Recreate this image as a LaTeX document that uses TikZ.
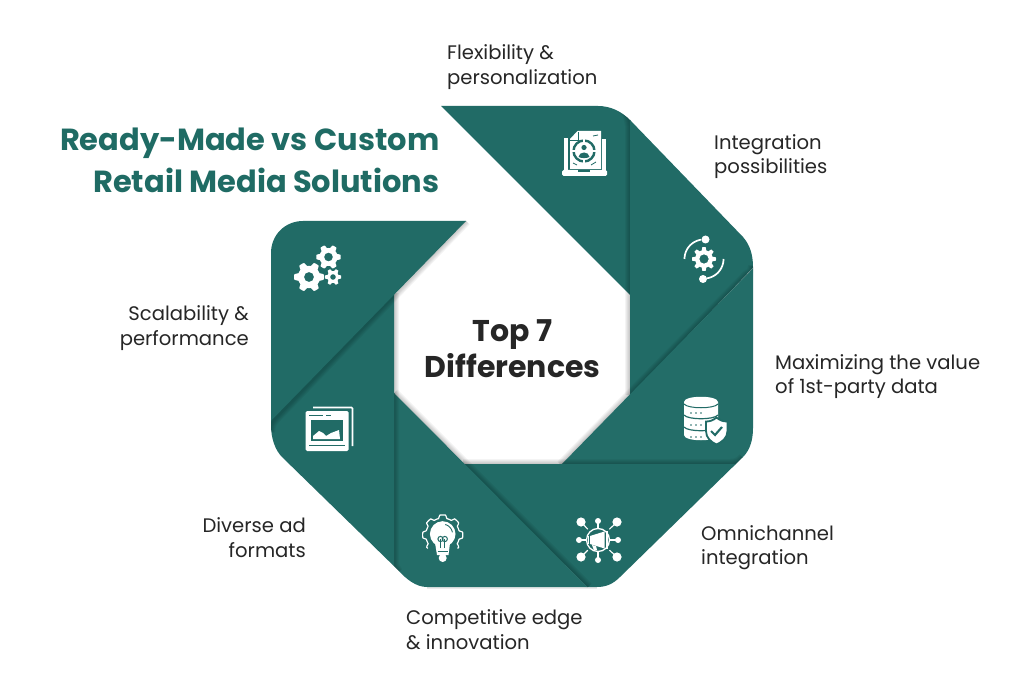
\documentclass[tikz,border=0pt]{standalone}
\usepackage{fontspec}
\setmainfont{Poppins}
\definecolor{teal1}{HTML}{216B66}
\definecolor{teal2}{HTML}{236D68}
\definecolor{inkc}{HTML}{262626}
\definecolor{titlec}{HTML}{1F6B64}
% soft contact shadow along a fold of the ring
\newcommand\softedge[1]{%
  \foreach \w in {1,...,5}{\draw[line width=\w*2pt, black, opacity=.042] #1;}}
% lobed gear: centre x, centre y, mean radius, lobe height, lobes, hole radius
\newcommand\lobedgear[6]{%
  \fill[white, even odd rule] plot[domain=0:360, samples=145, smooth]
    ({#1+(#3+#4*max(-1,min(1,2.2*cos(#5*\x))))*cos(\x)},
     {#2+(#3+#4*max(-1,min(1,2.2*cos(#5*\x))))*sin(\x)}) -- cycle
    (#1,#2) circle (#6);}
\begin{document}
\begin{tikzpicture}[x=1pt,y=-1pt,
  segA/.style={fill=teal1},
  segB/.style={fill=teal2},
  label/.style={font=\fontsize{19.6}{24.6}\selectfont, text=inkc, inner sep=0pt},
  headline/.style={font=\fontsize{30.5}{42}\selectfont\bfseries, text=titlec, inner sep=0pt, align=right, anchor=east},
  hub/.style={font=\fontsize{30}{36}\selectfont\bfseries, text=inkc, inner sep=0pt, align=center}]
\useasboundingbox (0,0) rectangle (1024,692);
\fill[white] (0,0) rectangle (1024,692);

% faint ground shadow under the ring
\draw[line width=3pt, black, opacity=.08] (427,587.5) -- (597,587.5);

% seven overlapping ring segments, each casting a shadow on the one before
\begin{scope}
\clip (441,106) -- (598,106) .. controls (610,106) and (621,111) .. (630,120)
  -- (743,237) .. controls (750,245) and (753,255) .. (753,267)
  -- (753,428) .. controls (753,440) and (750,450) .. (743,457)
  -- (620,577) .. controls (613,584) and (606,587) .. (597,587)
  -- (427,587) .. controls (416,587) and (406,579) .. (398,570)
  -- (282,457) .. controls (275,450) and (271,438) .. (271,425)
  -- (271,253) .. controls (271,235) and (285,221) .. (303,221)
  -- (466,221) -- cycle;
\fill[segA] (441,106) -- (631,106) -- (631,296) -- cycle;
\softedge{(622,108) .. controls (628,114) .. (630,126) -- (630,395)}
\fill[segA] (630,100) -- (770,100) -- (770,250) -- (630,396) -- cycle;
\softedge{(753,266) .. controls (752,272) .. (747,275) -- (561,465)}
\fill[segB] (561,465) -- (770,251) -- (770,464) -- cycle;
\softedge{(743,458) .. controls (738,463) .. (730,464) -- (463,464)}
\fill[segA] (463,464) -- (770,464) -- (770,600) -- (600,600) -- cycle;
\softedge{(394,393) -- (588,587)}
\fill[segB] (394,393) -- (600,600) -- (394,600) -- cycle;
\softedge{(394,293) -- (394,560) .. controls (394,566) .. (398,572)}
\fill[segA] (394,293) -- (394,600) -- (260,600) -- (260,430) -- cycle;
\softedge{(270,432) .. controls (271,424) .. (276,418) -- (466,221)}
\fill[segA] (466,221) -- (260,221) -- (260,432) -- cycle;
\end{scope}

% heading and labels
\node[headline] (title) at (439.5,160) {Ready-Made vs Custom\\Retail Media Solutions};
\node[hub] (centre) at (512.7,349) {Top 7\\Differences};
\node[label, align=left, anchor=west] (l1) at (447,67) {Flexibility \&\\personalization};
\node[label, align=left, anchor=west] (l2) at (714,156.5) {Integration\\possibilities};
\node[label, align=left, anchor=west] (l3) at (775,376.5) {Maximizing the value\\of 1st-party data};
\node[label, align=left, anchor=west] (l4) at (701,547.5) {Omnichannel\\integration};
\node[label, align=left, anchor=west] (l5) at (406,629.8) {Competitive edge\\\& innovation};
\node[label, align=right, anchor=east] (l6) at (306,537.8) {Diverse ad\\formats};
\node[label, align=right, anchor=east] (l7) at (249,328.3) {Scalability \&\\performance};

% laptop with target document
\fill[white, rounded corners=1.5pt] (562,170) rectangle (607,176);
\fill[teal1] (578,170) rectangle (590,172);
\fill[white] (564,138) rectangle (568,170);
\fill[white] (602,139) rectangle (605.5,170);
\fill[white] (570,139) -- (577.5,131) -- (601,131) -- (601,169) -- (570,169) -- cycle;
\draw[teal1, line width=.8pt] (570,140) -- (578,140) -- (578,132);
\draw[teal1, line width=2.4pt] (584,151) circle (10.5);
\draw[white, line width=1.6pt] (584,137) -- (584,143) (584,159) -- (584,165) (570,151) -- (576,151) (592,151) -- (598,151);
\fill[teal1] (584,147.5) circle (2.6);
\fill[teal1] (578.5,157) .. controls (579,151) and (589,151) .. (589.5,157) .. controls (586,158.5) and (582,158.5) .. (578.5,157) -- cycle;
\draw[teal1, line width=.8pt] (593,136) -- (598,135) (573,163) -- (577,165) (591,165) -- (596,162);

% gear between two orbit arcs
\lobedgear{704}{259}{10.4}{1.6}{8}{4.7}
\draw[white, line width=1.7pt] plot[domain=180:262, samples=24] ({704+19.5*cos(\x)},{259+19.5*sin(\x)});
\draw[white, line width=1.7pt] plot[domain=0:82, samples=24] ({704+19.5*cos(\x)},{259+19.5*sin(\x)});
\fill[white] (705.5,239.5) circle (4);
\fill[white] (703,279) circle (4);

% database with shield
\fill[white] (684,402) .. controls (684,395) and (718,395) .. (718,402)
  -- (718,435) .. controls (718,442) and (684,442) .. (684,435) -- cycle;
\draw[teal1, line width=1pt] (684,404) .. controls (688,409) and (714,409) .. (718,404);
\draw[teal1, line width=1.2pt] (684,415) .. controls (688,420) and (714,420) .. (718,415);
\draw[teal1, line width=1.2pt] (684,427) .. controls (688,432) and (714,432) .. (718,427);
\foreach \yy in {413,425,437}{\foreach \xx in {691,696,701}{\fill[teal1] (\xx,\yy) circle (.9);}}
\path[fill=white, draw=teal1, line width=1.8pt] (716.5,417.5) .. controls (720,420.5) and (723,421.5) .. (727.5,421.5)
  -- (727.5,431) .. controls (727.5,438) and (722,442) .. (716.5,444.5)
  .. controls (711,442) and (706,438) .. (706,431) -- (706,421.5)
  .. controls (710,421.5) and (713,420.5) .. (716.5,417.5) -- cycle;
\draw[teal1, line width=2.1pt] (711,431) -- (715,435) -- (722,427);

% megaphone hub with radiating nodes
\draw[white, line width=1.3pt] (598,540) circle (11.5);
\foreach \dx/\dy/\rr in {-17/-18/4.6,19/-18/4.6,-17/17/4.6,19/17/4.6,0/-19/3,0/20/3,-19/0/3,20/0/3}{
  \draw[white, line width=1.1pt] (598,540) ++(.6*\dx,.6*\dy) -- ++(.4*\dx,.4*\dy);
  \fill[white] (598+\dx,540+\dy) circle (\rr);}
\fill[white] (590,536) -- (604.5,531.5) -- (604.5,548.5) -- (590,544) -- cycle;
\fill[white] (587.5,536) rectangle (589.3,544);
\fill[white] (606,531) rectangle (607.5,549);
\fill[white] (592,545) -- (596,546) -- (597,550) -- (594,550.5) -- cycle;

% light bulb inside a gear outline
\draw[white, line width=1.2pt] plot[domain=138:402, samples=120]
  ({442.7+(18.5+1.6*max(-1,min(1,2.5*cos(8*(\x-270)))))*cos(\x)},
   {535+(18.5+1.6*max(-1,min(1,2.5*cos(8*(\x-270)))))*sin(\x)});
\fill[white] (442.7,534) circle (12.8);
\fill[white] (435,543) -- (450,543) -- (448.5,555) -- (437,555) -- cycle;
\fill[white] (442.7,558) circle (4);
\draw[teal1, line width=.8pt] (437.5,551) -- (448,551);
\draw[teal1, line width=1pt] (440.5,548) -- (440.5,539) (444.8,548) -- (444.8,539);
\draw[teal1, line width=1pt] (440.5,539) circle (2.6) (444.8,539) circle (2.6);
\draw[teal1, line width=.9pt] plot[domain=-75:-10, samples=16] ({442.7+9.8*cos(\x)},{534+9.8*sin(\x)});

% stacked browser windows with a picture
\draw[white, line width=1.6pt, rounded corners=1pt] (313,407.5) -- (352.5,407.5) -- (352.5,446);
\fill[white, rounded corners=1.5pt] (305.5,411) rectangle (348.5,451);
\draw[teal1, line width=1pt] (309,415) -- (323,415) (326,415) -- (331,415);
\fill[teal1] (311,420) rectangle (343,441);
\fill[white] (313,439) -- (313,436) -- (319,431) -- (323,433) -- (326,436) -- (331,433) -- (339,430) -- (340,439) -- cycle;
\draw[teal1, line width=1pt] (309,445.5) -- (345,445.5);

% cluster of three gears
\lobedgear{309}{277}{13}{1.9}{6}{5}
\lobedgear{328.5}{257}{10.6}{1.6}{6}{4.4}
\lobedgear{333}{277}{7}{1.2}{6}{2.9}
\end{tikzpicture}
\end{document}
